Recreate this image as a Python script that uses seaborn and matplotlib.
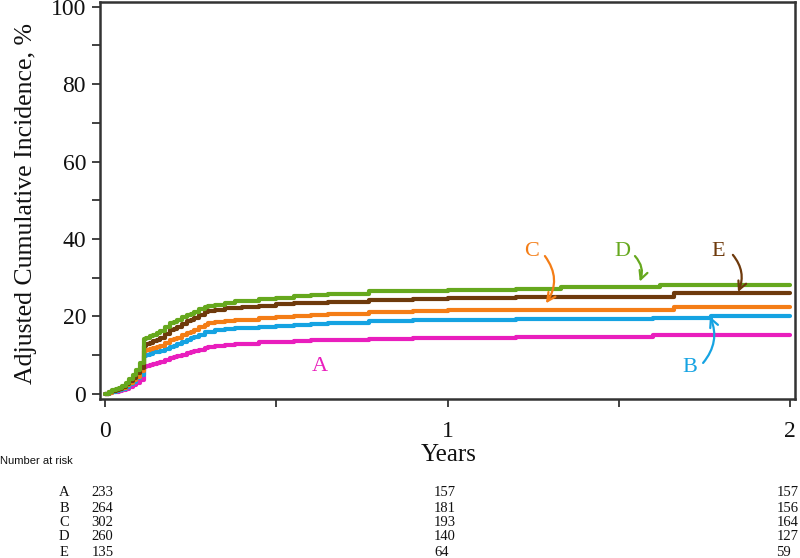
import pandas as pd
import matplotlib
matplotlib.use("Agg")
import matplotlib.pyplot as plt
import matplotlib.transforms as mtransforms
from matplotlib.ticker import MultipleLocator
import seaborn as sns

# step times (years) shared by all five curves
years = [0, 0.01, 0.02, 0.03, 0.04, 0.05, 0.06, 0.07, 0.08, 0.09, 0.10,
         0.112, 0.12, 0.13, 0.14, 0.15, 0.16,
         0.175, 0.19, 0.2, 0.21, 0.225, 0.24, 0.25, 0.26, 0.275, 0.29, 0.3,
         0.32, 0.35, 0.38, 0.4, 0.45, 0.5, 0.55, 0.6, 0.65,
         0.77, 0.9, 1.0, 1.2, 1.33,
         1.6, 1.62, 1.66, 1.77, 2.0]

inc_a = [0, 0.2, 0.4, 0.6, 0.8, 1.0, 1.3, 1.8, 2.3, 2.8, 3.6,
         7.0, 7.2, 7.4, 7.7, 8.0, 8.3,
         8.8, 9.3, 9.6, 9.8, 10.1, 10.5, 10.7, 11.0, 11.3, 11.8, 12.0,
         12.3, 12.6, 12.9, 13.0, 13.3, 13.5, 13.6, 13.8, 13.9,
         14.3, 14.4, 14.5, 14.6, 14.6,
         15.1, 15.1, 15.1, 15.1, 15.2]
inc_b = [0, 0.3, 0.6, 0.8, 1.0, 1.3, 1.8, 2.5, 3.2, 4.0, 4.9,
         9.8, 10.1, 10.4, 10.7, 10.9, 11.2,
         11.7, 12.2, 12.4, 12.8, 13.4, 14.0, 14.4, 14.8, 15.3, 15.9, 16.1,
         16.4, 16.7, 16.9, 17.0, 17.2, 17.5, 17.8, 18.0, 18.2,
         18.8, 19.0, 19.1, 19.3, 19.4,
         19.7, 19.7, 19.7, 20.0, 20.0]
inc_c = [0, 0.3, 0.7, 1.0, 1.3, 1.6, 2.2, 2.9, 3.6, 4.5, 5.8,
         11.2, 11.4, 11.7, 11.9, 12.2, 12.5,
         13.2, 13.8, 14.1, 14.5, 15.2, 15.8, 16.1, 16.6, 17.2, 17.9, 18.2,
         18.5, 18.9, 19.1, 19.2, 19.5, 19.8, 20.1, 20.4, 20.7,
         21.2, 21.4, 21.6, 21.7, 21.7,
         21.7, 21.7, 22.4, 22.4, 22.4]
inc_d = [0, 0.5, 0.9, 1.3, 1.6, 2.0, 2.8, 3.8, 4.9, 6.2, 7.9,
         14.1, 14.5, 14.9, 15.3, 15.7, 16.3,
         17.3, 18.3, 18.7, 19.2, 19.8, 20.4, 20.7, 21.2, 21.8, 22.4, 22.6,
         23.0, 23.6, 23.9, 24.0, 24.4, 24.8, 25.3, 25.5, 25.8,
         26.5, 26.7, 26.8, 27.2, 27.5,
         27.6, 28.2, 28.2, 28.2, 28.2]
inc_e = [0, 0.4, 0.8, 1.1, 1.4, 1.8, 2.5, 3.3, 4.2, 5.3, 6.8,
         12.4, 12.8, 13.2, 13.6, 13.9, 14.5,
         15.5, 16.4, 16.7, 17.3, 18.1, 18.8, 19.1, 19.7, 20.4, 21.1, 21.3,
         21.7, 22.1, 22.3, 22.4, 22.7, 23.1, 23.4, 23.6, 23.8,
         24.3, 24.6, 24.8, 25.0, 25.1,
         25.1, 25.1, 26.0, 26.0, 26.0]

groups = ["A", "B", "C", "D", "E"]
colors = {"A": "#e91ebd", "B": "#15a3e2", "C": "#f47d16",
          "D": "#66a81e", "E": "#6e3a0c"}

# number at risk table
risk_years = [0, 1, 2]
risk_a = [233, 157, 157]
risk_b = [264, 181, 156]
risk_c = [302, 193, 164]
risk_d = [260, 140, 127]
risk_e = [135, 64, 59]

sns.set_style("ticks")
plt.rcParams["font.family"] = ["Liberation Serif", "DejaVu Serif"]

df = pd.concat([
    pd.DataFrame({"years": years, "incidence": vals, "group": g})
    for g, vals in zip(groups, [inc_a, inc_b, inc_c, inc_d, inc_e])
])

fig = plt.figure(figsize=(8, 5.58), dpi=100)
ax = fig.add_axes([0.125, 0.285, 0.869, 0.7115])

sns.lineplot(data=df, x="years", y="incidence", hue="group",
             hue_order=["A", "B", "C", "E", "D"], palette=colors,
             estimator=None, drawstyle="steps-post", linewidth=3,
             legend=False, ax=ax)

ax.set_xlim(-0.0155, 2.015)
ax.set_ylim(-1.3, 101.2)
ax.xaxis.set_major_locator(MultipleLocator(1))
ax.xaxis.set_minor_locator(MultipleLocator(0.5))
ax.yaxis.set_major_locator(MultipleLocator(20))
ax.yaxis.set_minor_locator(MultipleLocator(10))
ax.tick_params(which="both", direction="out", length=6, width=1.3,
               color="#333333", labelsize=17, labelcolor="#111111")
ax.tick_params(axis="x", pad=10)
ax.tick_params(axis="y", pad=4)
ax.set_xlabel("")
ax.set_ylabel("")
for side in ["left", "right", "top", "bottom"]:
    ax.spines[side].set_visible(True)
    ax.spines[side].set_color("#333333")
    ax.spines[side].set_linewidth(1.8)

fig.text(0.032, 0.636, "Adjusted Cumulative Incidence, %", rotation=90,
         ha="center", va="center", fontsize=18.5, color="#111111")
fig.text(449 / 800, 1 - 455 / 558, "Years", ha="center", va="center",
         fontsize=18, color="#111111")

# curve labels and arrows
ax.text(0.626, 7.2, "A", color=colors["A"], fontsize=16, ha="center", va="center")
label_pos = {"C": ((1.246, 36.7), (1.284, 35.6), (1.287, 23.4), -0.35),
             "D": ((1.509, 36.7), (1.547, 35.6), (1.561, 29.0), -0.3),
             "E": ((1.789, 36.7), (1.833, 35.9), (1.848, 26.3), -0.3),
             "B": ((1.708, 6.7), (1.746, 8.0), (1.766, 20.0), 0.3)}
for g, (txt, start, end, rad) in label_pos.items():
    ax.text(txt[0], txt[1], g, color=colors[g], fontsize=16,
            ha="center", va="center")
    ax.annotate("", xy=end, xytext=start,
                arrowprops=dict(arrowstyle="->", color=colors[g], lw=1.6,
                                connectionstyle=f"arc3,rad={rad}",
                                shrinkA=0, shrinkB=0, mutation_scale=15))

# number at risk
fig.text(0.0, 1 - 461 / 558, "Number at risk", ha="left", va="center",
         fontsize=8, family="Liberation Sans", color="#111111")
trans = mtransforms.blended_transform_factory(ax.transData, fig.transFigure)
row_y = [493, 508, 522, 537, 552]
for g, counts, py in zip(groups, [risk_a, risk_b, risk_c, risk_d, risk_e], row_y):
    fy = 1 - py / 558
    fig.text(64 / 800, fy, g, ha="center", va="center", fontsize=10.5,
             color="#111111")
    for t, n in zip(risk_years, counts):
        ax.text(t - 0.04, fy, str(n), transform=trans, ha="left",
                va="center", fontsize=10.5, color="#111111", clip_on=False)

fig.savefig("out.png", dpi=100)
